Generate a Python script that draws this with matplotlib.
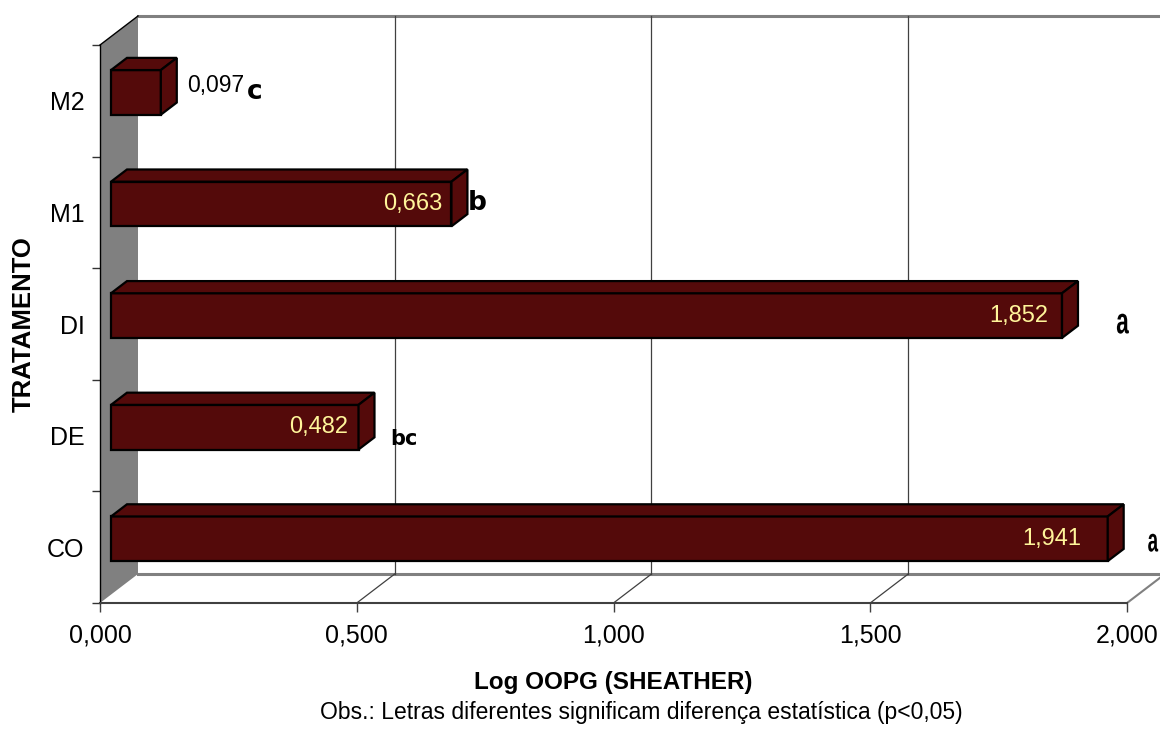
import numpy as np
import matplotlib.pyplot as plt
from matplotlib.patches import Polygon, PathPatch
from matplotlib.textpath import TextPath
from matplotlib.font_manager import FontProperties
from matplotlib import transforms

plt.rcParams['font.family'] = ['Liberation Sans', 'DejaVu Sans']

# data (bottom to top)
categories = ["CO", "DE", "DI", "M1", "M2"]
values = [1.941, 0.482, 1.852, 0.663, 0.097]
value_labels = ["1,941", "0,482", "1,852", "0,663", "0,097"]
letters = ["a", "bc", "a", "b", "c"]
xticks = [0.0, 0.5, 1.0, 1.5, 2.0]
xtick_labels = ["0,000", "0,500", "1,000", "1,500", "2,000"]

# 3d look: depth offset of the back plane, in data units
DX, DY = 0.074, 0.26
F0, F1 = 0.29, 0.71          # bar front/back as fraction of depth
HALF = 0.2                   # half bar thickness
BAR = "#540A0A"
GRID = "#404040"

# layout for the labels
label_off = [26, 10, 14, 9, -26]          # px from bar front end
letter_pos = [(2.051, 0.04), (0.592, 0.968), (1.992, 2.003), (0.735, 3.087), (0.301, 4.077)]


def path_text(s, x, y, trans, sx, sy, weight="bold", family="Liberation Sans", zorder=6):
    """Text drawn as a path, scaled independently in x and y (pixels), centred on (x, y)."""
    fp = FontProperties(family=family, weight=weight)
    tp = TextPath((0, 0), s, size=1, prop=fp)
    ext = tp.get_extents()
    tr = (transforms.Affine2D()
          .translate(-(ext.x0 + ext.x1) / 2, -(ext.y0 + ext.y1) / 2)
          .scale(sx, sy)
          + transforms.ScaledTranslation(x, y, trans))
    return PathPatch(tp, transform=tr, facecolor="black", lw=0, clip_on=False, zorder=zorder)


fig = plt.figure(figsize=(11.6, 7.29), dpi=100)
ax = fig.add_axes([100 / 1160, 126 / 729, 1027 / 1160, 558 / 729])
ax.set_xlim(0, 2)
ax.set_ylim(-0.5, 4.5)
ax.patch.set_alpha(0)

y0, y1 = -0.5, 4.5

# side wall
ax.add_patch(Polygon([(0, y0), (0, y1), (DX, y1 + DY), (DX, y0 + DY)],
                     closed=True, facecolor="#808080", edgecolor="none", clip_on=False, zorder=1))
ax.plot([0, DX], [y1, y1 + DY], color="black", lw=1, clip_on=False, zorder=2)

# back wall top and floor back edge
ax.plot([DX, 2 + DX], [y1 + DY, y1 + DY], color="#808080", lw=2.2, clip_on=False, zorder=1)
ax.plot([DX, 2 + DX], [y0 + DY, y0 + DY], color="#808080", lw=2.2, clip_on=False, zorder=1)
ax.plot([2, 2 + DX], [y0, y0 + DY], color="#808080", lw=1.5, clip_on=False, zorder=1)

# gridlines on back wall and floor
for v in xticks[1:-1]:
    ax.plot([v + DX, v + DX], [y0 + DY, y1 + DY], color=GRID, lw=0.9, clip_on=False, zorder=1)
    ax.plot([v, v + DX], [y0, y0 + DY], color=GRID, lw=0.9, clip_on=False, zorder=1)

# 3d bars
for i, v in enumerate(values):
    xf, yf = F0 * DX, i + F0 * DY
    xb, yb = F1 * DX, i + F1 * DY
    faces = [
        [(xf, yf - HALF), (v + xf, yf - HALF), (v + xf, yf + HALF), (xf, yf + HALF)],
        [(xf, yf + HALF), (v + xf, yf + HALF), (v + xb, yb + HALF), (xb, yb + HALF)],
        [(v + xf, yf - HALF), (v + xf, yf + HALF), (v + xb, yb + HALF), (v + xb, yb - HALF)],
    ]
    for f in faces:
        ax.add_patch(Polygon(f, closed=True, facecolor=BAR, edgecolor="black",
                             lw=1.6, joinstyle="miter", clip_on=False, zorder=3))

    off = label_off[i]
    if off > 0:
        ax.annotate(value_labels[i], (v + xf, yf), xytext=(-off, 0), textcoords="offset pixels",
                    ha="right", va="center", color="#FFF59A", fontsize=17, zorder=5)
    else:
        ax.annotate(value_labels[i], (v + xf, yf), xytext=(-off, 7), textcoords="offset pixels",
                    ha="left", va="center", color="black", fontsize=16.5, zorder=5)

# significance letters
for i, s in enumerate(letters):
    lx, ly = letter_pos[i]
    if s == "a":
        # tall condensed "a"
        w, h = (12, 20) if i == 2 else (10, 18)
        tp = TextPath((0, 0), s, size=1, prop=FontProperties(family="Liberation Sans", weight="bold"))
        ext = tp.get_extents()
        ax.add_patch(path_text(s, lx, ly, ax.transData, w / ext.width, h / ext.height))
    else:
        fs = 15 if s == "bc" else 19
        ax.text(lx, ly, s, ha="center", va="center", fontsize=fs, fontweight="bold",
                family="DejaVu Sans", zorder=6)

# axes
for side in ("top", "right"):
    ax.spines[side].set_visible(False)
ax.spines["left"].set_color("black")
ax.spines["left"].set_linewidth(1)
ax.spines["bottom"].set_color(GRID)
ax.spines["bottom"].set_linewidth(1.5)

ax.set_xticks(xticks)
ax.set_xticklabels(xtick_labels, fontsize=18)
ax.tick_params(axis="x", direction="out", length=6.5, width=1, color=GRID, pad=8)

ax.set_yticks(np.arange(-0.5, 5, 1))
ax.set_yticklabels([])
ax.set_yticks(np.arange(len(categories)), minor=True)
ax.set_yticklabels(categories, minor=True, fontsize=18)
ax.tick_params(axis="y", which="major", direction="out", length=6, width=1, color="#333333")
ax.tick_params(axis="y", which="minor", length=0, pad=11)

fig.text(613 / 1160, 1 - 683 / 729, "Log OOPG (SHEATHER)", ha="center", va="center",
         fontsize=17.5, fontweight="bold")
fig.text(641 / 1160, 1 - 713 / 729,
         "Obs.: Letras diferentes significam diferença estatística (p<0,05)",
         ha="center", va="center", fontsize=16.5)
fig.text(24 / 1160, 1 - 324 / 729, "TRATAMENTO", rotation=90, ha="center", va="center",
         fontsize=18.5, fontweight="bold")

fig.savefig("out.png", dpi=100)
